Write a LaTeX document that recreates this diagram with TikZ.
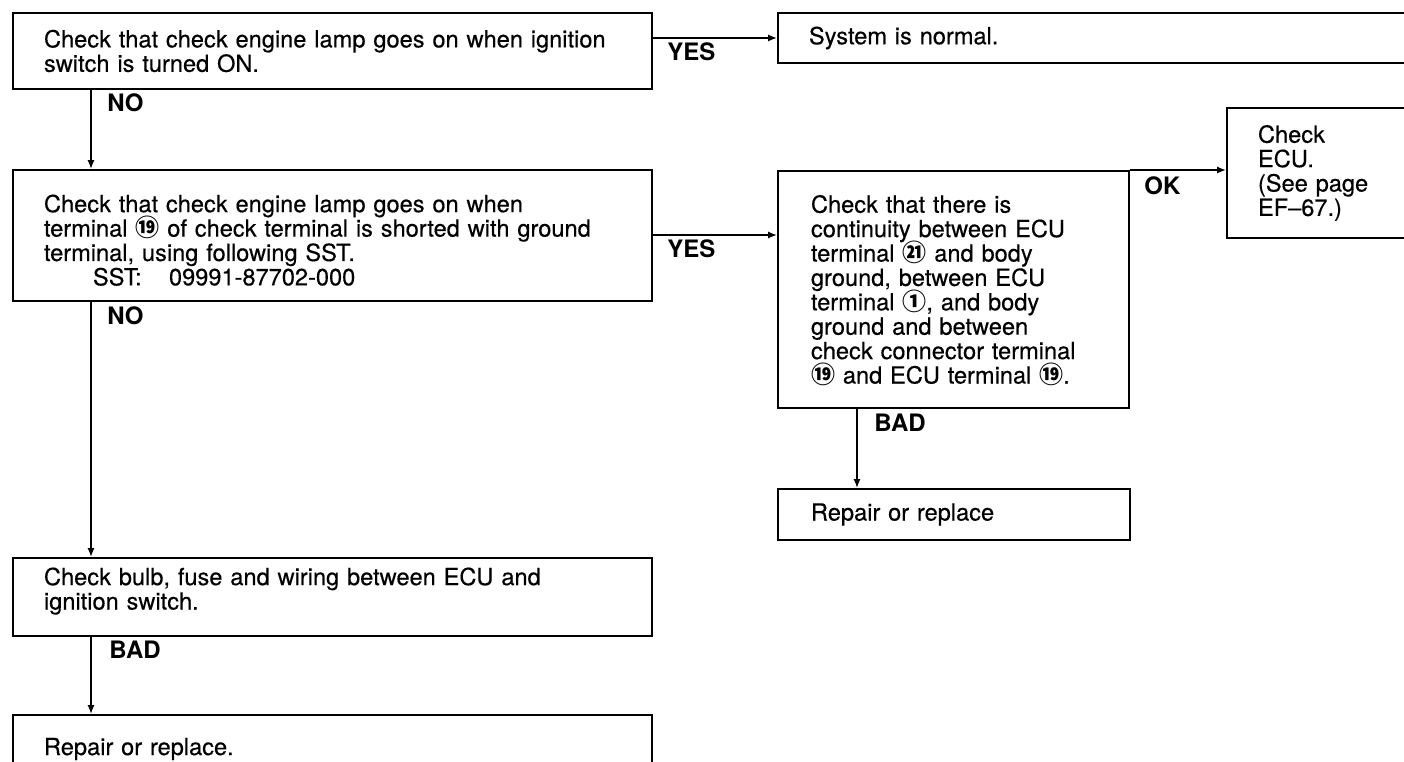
\documentclass[tikz,border=0pt]{standalone}
\usepackage{fontspec}
\setmainfont{TeX Gyre Heros}[FakeBold=0.35]
\newfontfamily\lblfont{TeX Gyre Heros}
\newfontfamily\cjk{Noto Sans CJK SC}
\usetikzlibrary{arrows.meta}
\newcommand{\cn}[1]{\smash{\cjk\bfseries\fontsize{12}{11}\selectfont #1}}
\begin{document}
\begin{tikzpicture}[x=0.5pt,y=-0.5pt,
  font=\fontsize{11.8}{12.2}\selectfont,
  box/.style={draw, line width=1pt, inner xsep=15.5pt, inner ysep=0pt, align=left, anchor=north west},
  wbox/.style={box, inner xsep=16.5pt},
  arr/.style={line width=0.8pt, -{Latex[length=4.5pt,width=3.6pt]}},
  lab/.style={font=\lblfont\fontsize{12}{12}\selectfont\bfseries, inner sep=0pt, anchor=west}]
\useasboundingbox (0,0) rectangle (1404,761);
\fill[white] (0,0) rectangle (1404,761);
\clip (0,0) rectangle (1404,761);

\node[box, minimum width=319.5pt, minimum height=38pt, text width=288.5pt] (b1) at (12,12)
  {Check that check engine lamp goes on when ignition\\switch is turned ON.};
\node[box, minimum width=341.5pt, minimum height=25pt, text width=310.5pt] (b2) at (777,12)
  {System is normal.};
\node[box, minimum width=319.5pt, minimum height=65.5pt, text width=288.5pt] (b3) at (12,169)
  {\rule{0pt}{13.5pt}Check that check engine lamp goes on when\\
   terminal \cn{⑲} of check terminal is shorted with ground\\
   terminal, using following SST.\\
   \hspace*{24.5pt}\makebox[38pt][l]{SST:}09991-87702-000};
\node[box, minimum width=319.5pt, minimum height=39pt, text width=288.5pt] (b4) at (12,557)
  {Check bulb, fuse and wiring between ECU and\\ignition switch.\rule[-8.5pt]{0pt}{1pt}};
\node[box, minimum width=319.5pt, minimum height=34pt, text width=288.5pt] (b5) at (12,714)
  {Repair or replace.};
\node[wbox, minimum width=175.5pt, minimum height=118.5pt, text width=142.5pt] (b6) at (777,170)
  {Check that there is\\
   continuity between ECU\\
   terminal \cn{㉑} and body\\
   ground, between ECU\\
   terminal \cn{①}, and body\\
   ground and between\\
   check connector terminal\\
   \cn{⑲} and ECU terminal \cn{⑲}.};
\node[box, minimum width=117pt, minimum height=65pt, text width=86pt] (b7) at (1226,107)
  {Check\\ECU.\\(See page\\EF–67.)};
\node[wbox, minimum width=176pt, minimum height=25.5pt, text width=143pt] (b8) at (777,488)
  {Repair or replace};

\node[lab] (yes1) at (667,52) {YES};
\node[lab] (yes2) at (667,249) {YES};
\node[lab] (no1) at (107,103) {NO};
\node[lab] (no2) at (107,316) {NO};
\node[lab] (bad1) at (109,650) {BAD};
\node[lab] (bad2) at (874,423) {BAD};
\node[lab] (ok) at (1144,186) {OK};

\draw[arr] (b1.east |- b2.west) -- (b2.west);
\draw[arr] ([xshift=39.5pt]b1.south west) -- ([xshift=39.5pt]b1.south west |- b3.north);
\draw[arr] ([xshift=39.5pt]b3.south west) -- ([xshift=39.5pt]b3.south west |- b4.north);
\draw[arr] ([xshift=39.5pt]b4.south west) -- ([xshift=39.5pt]b4.south west |- b5.north);
\draw[arr] ([yshift=-33pt]b3.north east) -- ([yshift=-33pt]b3.north east -| b6.west);
\draw[arr] (b6.north east) -- (b6.north east -| b7.west);
\draw[arr] ([xshift=40pt]b6.south west) -- ([xshift=40pt]b6.south west |- b8.north);
\end{tikzpicture}
\end{document}
